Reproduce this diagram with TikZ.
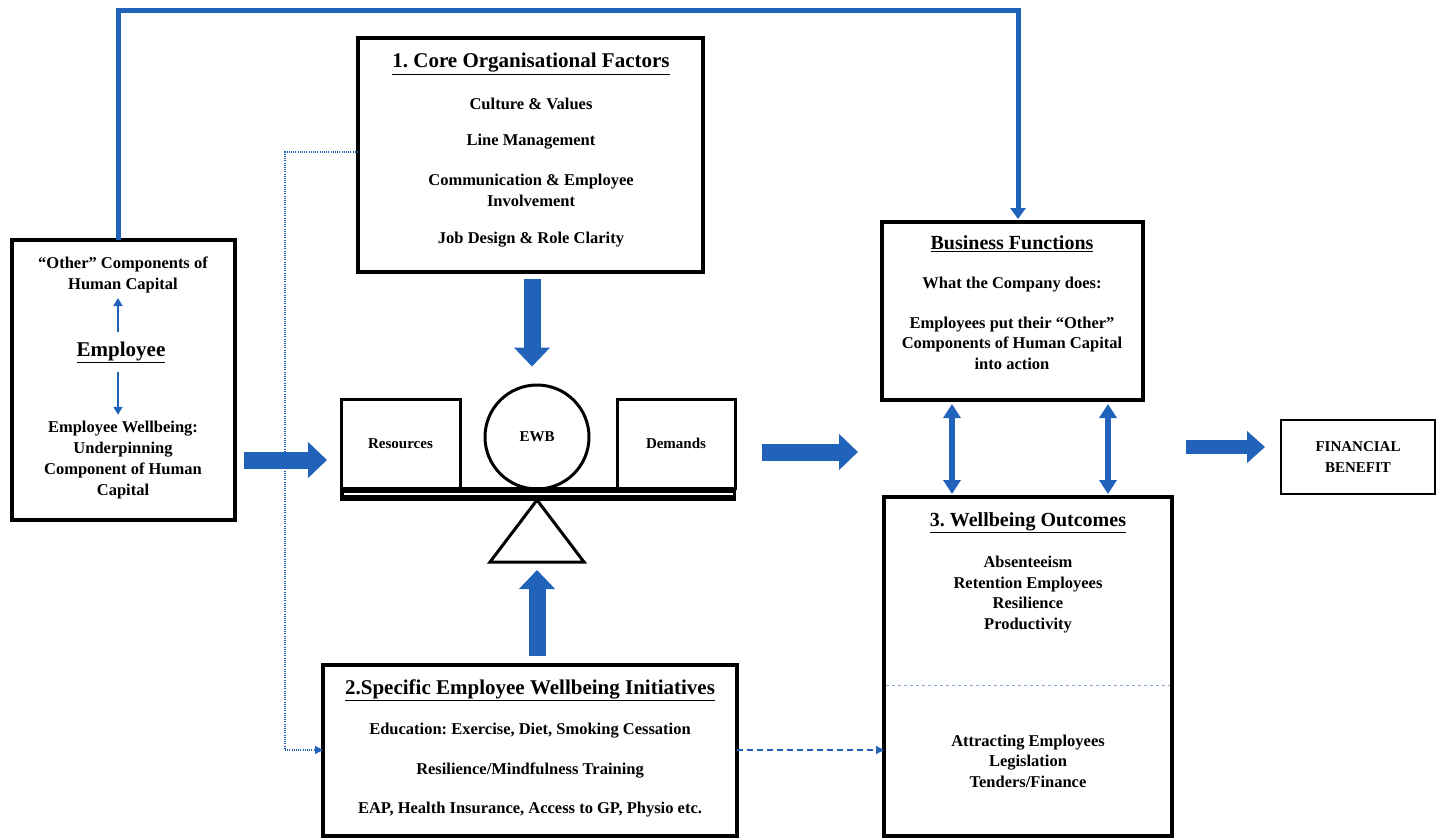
\documentclass[tikz,border=0pt]{standalone}
\usepackage{fontspec}
\setmainfont{Liberation Serif}
\usetikzlibrary{arrows.meta,calc}
\definecolor{arrblue}{RGB}{33,98,186}
\frenchspacing
\begin{document}
\begin{tikzpicture}[x=1pt,y=-1pt,
  box/.style={draw=black, line width=3.2pt, inner sep=0pt, outer sep=0pt, anchor=north west},
  txt/.style={font=\fontsize{16.5}{20.5}\selectfont\bfseries, align=center, inner sep=0pt},
  ttl/.style={font=\fontsize{21}{24}\selectfont\bfseries, align=center, inner sep=0pt},
  bigarrow/.style={draw=arrblue, line width=17pt, -{Triangle[length=19pt,width=35pt]}},
  midarrow/.style={draw=arrblue, line width=14pt, -{Triangle[length=18pt,width=31pt]}},
  dblarrow/.style={draw=arrblue, line width=5.5pt, {Triangle[length=14pt,width=17pt]}-{Triangle[length=14pt,width=17pt]}},
  smallarrow/.style={draw=arrblue, line width=1.6pt, -{Triangle[length=8pt,width=9pt]}},
  topline/.style={draw=arrblue, line width=5pt, line join=miter, -{Triangle[length=11pt,width=15pt]}},
  dotline/.style={draw=arrblue, line width=1.2pt, dash pattern=on 1pt off 1.2pt, -{Triangle[length=8pt,width=8pt]}},
  dashline/.style={draw=arrblue, line width=1.3pt, dash pattern=on 6pt off 4pt, -{Triangle[length=8pt,width=8pt]}}
]
\useasboundingbox[fill=white] (0,0) rectangle (1437,839);

% ---------- boxes ----------
\node[box, minimum width=223pt, minimum height=280pt] (emp) at (12,240) {};
\node[box, minimum width=345pt, minimum height=234pt] (core) at (358,38) {};
\node[box, minimum width=261pt, minimum height=178pt] (bf) at (882,222) {};
\node[box, minimum width=288pt, minimum height=339pt] (wo) at (884,497) {};
\node[box, minimum width=414pt, minimum height=171pt] (spec) at (323,665) {};
\node[box, line width=2.6pt, minimum width=154pt, minimum height=74pt] (fin) at (1281,420) {};

% ---------- employee box ----------
\node[txt] (emp1) at (123,275) {“Other” Components of\\Human Capital};
\node[ttl] (empt) at (121,352) {\underline{Employee}};
\node[txt, font=\fontsize{16.5}{21}\selectfont\bfseries] (emp2) at (123,460) {Employee Wellbeing:\\Underpinning\\Component of Human\\Capital};
\draw[smallarrow] ($(empt.north)+(-3,-9)$) -- ($(emp1.south)+(-5,5)$);
\draw[smallarrow] ($(empt.south)+(-3,9)$) -- ($(emp2.north)+(-5,-6)$);

% ---------- core box ----------
\node[ttl] (coret) at (531,64) {\underline{1. Core Organisational Factors}};
\node[txt] (c1) at (531,104) {Culture \& Values};
\node[txt] (c2) at (531,142) {Line Management};
\node[txt] (c3) at (531,190.5) {Communication \& Employee\\Involvement};
\node[txt] (c4) at (531,240) {Job Design \& Role Clarity};

% ---------- scale ----------
\node[box, line width=3pt, minimum width=119pt, minimum height=89pt] (res) at (341,399) {};
\node[box, line width=3pt, minimum width=118pt, minimum height=89pt] (dem) at (617,399) {};
\node[draw, circle, line width=3pt, minimum size=104pt, inner sep=0pt] (ewb) at (537,437) {};
\node[txt, font=\fontsize{15}{18}\selectfont\bfseries] (resl) at (res.center) {Resources};
\node[txt, font=\fontsize{15}{18}\selectfont\bfseries] (ewbl) at (ewb.center) {EWB};
\node[txt, font=\fontsize{15}{18}\selectfont\bfseries] (deml) at (dem.center) {Demands};
\node[fill=black, inner sep=0pt, outer sep=0pt, anchor=north west, minimum width=396pt, minimum height=14pt] (beam) at (340,486.5) {};
\draw[white, line width=2pt] ($(beam.west)+(4,0.5)$) -- ($(beam.east)+(-3,0.5)$);
\coordinate (triA) at (537,500);
\coordinate (triB) at (537,562);
\draw[line width=3pt, line join=miter, fill=white] (triA) -- (584,562) -- (490,562) -- cycle;

% ---------- big arrows ----------
\draw[bigarrow] ($(core.south)+(1.5,7)$) -- ($(ewb.north)+(-5,-17)$);
\draw[bigarrow] ($(spec.north -| triB)+(0,-9)$) -- ($(triB)+(0,8)$);
\coordinate (yL) at (0,460);
\draw[bigarrow] ($(emp.east |- yL)+(9,0)$) -- ($(res.west |- yL)+(-14,0)$);
\coordinate (yD) at (0,452);
\draw[bigarrow] ($(dem.east |- yD)+(27,0)$) -- ($(bf.west |- yD)+(-24,0)$);
\coordinate (yF) at (0,447);
\draw[midarrow] ($(wo.east |- yF)+(14,0)$) -- ($(fin.west |- yF)+(-16,0)$);

% ---------- double arrows ----------
\coordinate (xd1) at (952,0);
\coordinate (xd2) at (1108,0);
\draw[dblarrow] ($(bf.south -| xd1)+(0,4)$) -- ($(wo.north -| xd1)+(0,-3)$);
\draw[dblarrow] ($(bf.south -| xd2)+(0,4)$) -- ($(wo.north -| xd2)+(0,-3)$);

% ---------- top feedback line ----------
\coordinate (tlA) at (118,10);
\coordinate (tlB) at (1018,10);
\draw[topline] (emp.north -| tlA) -- (tlA) -- (tlB) -- ($(bf.north -| tlB)+(0,-3)$);

% ---------- dotted and dashed connectors ----------
\coordinate (dA) at (285,152);
\coordinate (dB) at (285,750);
\draw[dotline] (core.west |- dA) -- (dA) -- (dB) -- (spec.west |- dB);
\draw[dashline] (spec.east |- dB) -- (wo.west |- dB);

% ---------- business functions ----------
\node[ttl, font=\fontsize{20}{24}\selectfont\bfseries] (bft) at (1012,244) {\underline{Business Functions}};
\node[txt] (bf1) at (1012,285) {What the Company does:};
\node[txt] (bf2) at (1012,343) {Employees put their “Other”\\Components of Human Capital\\into action};

% ---------- wellbeing outcomes ----------
\node[ttl, font=\fontsize{20}{24}\selectfont\bfseries] (wot) at (1028,523) {\underline{3. Wellbeing Outcomes}};
\node[txt] (wo1) at (1028,594.5) {Absenteeism\\Retention Employees\\Resilience\\Productivity};
\coordinate (yW) at (0,685);
\draw[draw=arrblue!55, line width=0.8pt, dash pattern=on 3pt off 3pt] ($(wo.west |- yW)+(2,0)$) -- ($(wo.east |- yW)+(-2,0)$);
\node[txt] (wo2) at (1028,761) {Attracting Employees\\Legislation\\Tenders/Finance};

% ---------- specific initiatives ----------
\node[ttl] (spt) at (530,690) {\underline{2.Specific Employee Wellbeing Initiatives}};
\node[txt] (sp1) at (530,731) {Education: Exercise, Diet, Smoking Cessation};
\node[txt] (sp2) at (530,770) {Resilience/Mindfulness Training};
\node[txt] (sp3) at (530,810) {EAP, Health Insurance, Access to GP, Physio etc.};

% ---------- financial benefit ----------
\node[txt, font=\fontsize{15}{21}\selectfont\bfseries] (fint) at (fin.center) {FINANCIAL\\BENEFIT};
\end{tikzpicture}
\end{document}
